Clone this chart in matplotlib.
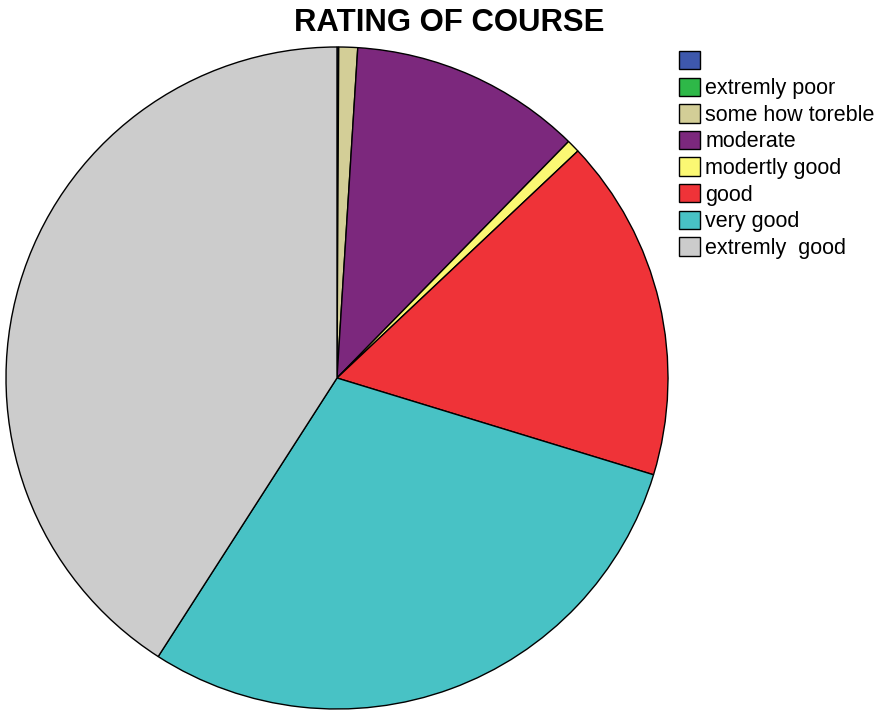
import matplotlib.pyplot as plt

# slice sizes (in degrees of the full circle)
labels = ['', 'extremly poor', 'some how toreble', 'moderate',
          'modertly good', 'good', 'very good', 'extremly  good']
values = [0.3, 0.0, 3.3, 40.8, 2.3, 60.3, 105.7, 147.3]
colors = ['#3E58AC', '#2EB848', '#D3CE97', '#7C287D',
          '#FBF873', '#EF3338', '#48C2C5', '#CCCCCC']

plt.rcParams['font.family'] = ['Liberation Sans', 'DejaVu Sans']

fig = plt.figure(figsize=(8.8, 7.1), dpi=100)
ax = fig.add_axes([6 / 880, 1 / 710, 662 / 880, 662 / 710])

wedges, _ = ax.pie(values, colors=colors, startangle=90, counterclock=False,
                   wedgeprops=dict(edgecolor='black', linewidth=1.0))
ax.set_xlim(-1, 1)
ax.set_ylim(-1, 1)
ax.set_aspect('equal')

fig.text(449 / 880, 1 - 23 / 710, 'RATING OF COURSE', ha='center', va='center',
         fontsize=22.4, fontweight='bold')

fig.legend(wedges, labels, loc='upper left',
           bbox_to_anchor=(679 / 880, 1 - 51 / 710),
           frameon=False, fontsize=15.5, borderpad=0, borderaxespad=0,
           handlelength=0.98, handleheight=0.93, handletextpad=0.25,
           labelspacing=0.235)

plt.savefig('out.png', dpi=100)
